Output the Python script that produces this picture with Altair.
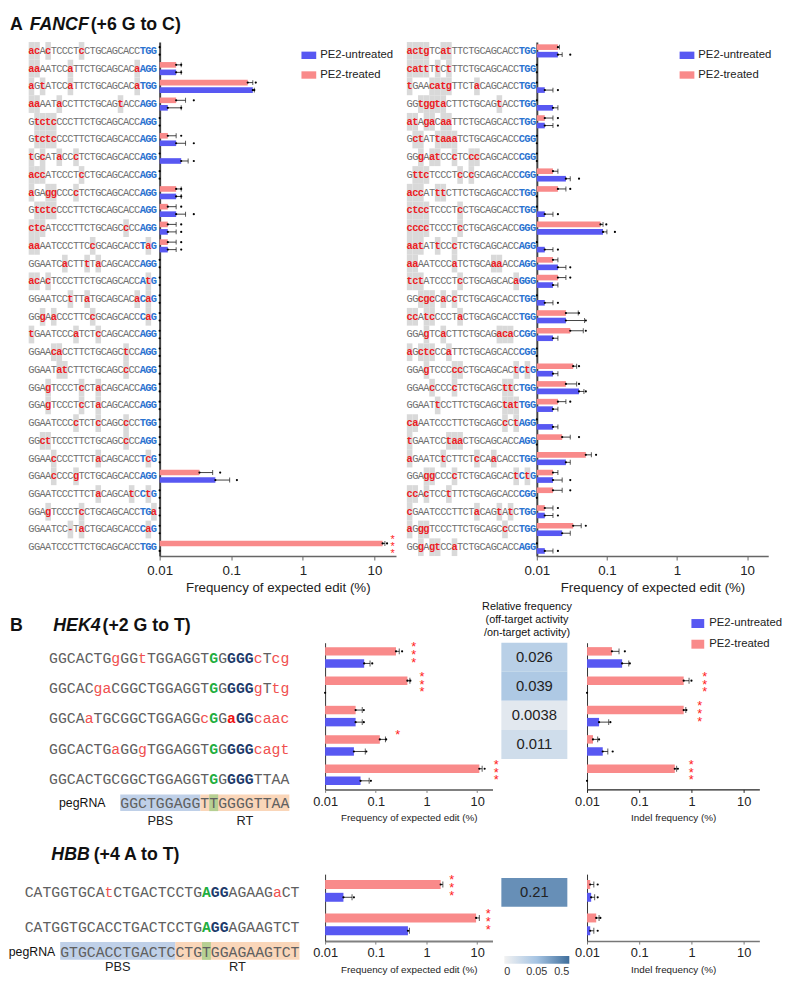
import altair as alt
import pandas as pd

MONO = "Liberation Mono"
SANS = "Liberation Sans"
BLUE = "#5858f2"
PINK = "#f98a8a"
GROUPS = ["PE2-untreated", "PE2-treated"]
OFFSET_ORDER = ["PE2-treated", "PE2-untreated"]
N = None

# ---------------- Panel A : FANCF (+6 G to C) ----------------
A_LEFT_SEQS = [
    "acAcTCCCTcCTGCAGCACCTGG", "aaAATCCaTTCTGCAGCACaAGG", "aGtATCCaTTCTGCAGCACaTGG",
    "aaAATaCCTTCTGCAGtACCAGG", "GtctcCCCTTCTGCAGCACCAGG", "GtctcCCCTTCTGCAGCACCAGG",
    "tGcATaCCcTCTGCAGCACCAGG", "accATCCCTcCTGCAGCACCAGG", "aGAggCCCcTCTGCAGCACCAGG",
    "GtctcCCCTTCTGCAGCACCAGG", "ctcATCCCTTCTGCAGCcCCAGG", "aaAATCCCTTCcGCAGCACCTaG",
    "GGAATCaCTTtTaCAGCACCAGG", "acAcTCCCTTCTGCAGCACCAtG", "GGAATCCtTTaTGCAGCACaCaG",
    "GGgAaCCCTTCcGCAGCACCCaG", "tGAATCCCaTCTcCAGCACCAGG", "GGAAcaCCTTCTGCAGCtCCAGG",
    "GGAATatCTTCTGCAGCcCCAGG", "GGAgTCCCTcCTaCAGCACCAGG", "GGAgTCCCTcCTaCAGCACCAGG",
    "GGAATCCCcTCTcCAGCcCCTGG", "GGctTCCCTTCTGCAGCcCCAGG", "GGAAcCCCTTCTaCAGCACCTcG",
    "GGAAcCCCgTCTGCAGCACCAGG", "GGAATCCCTTCTaCAGCAtCCtG", "GGAgTCCCTcCTGCAGCACCTGa",
    "GGAATCC-TaCTGCAGCACCCaG", "GGAATCCCTTCTGCAGCACCTGG",
]
A_LEFT_TREATED = [0.01, 0.017, 0.17, 0.017, 0.01, 0.013, 0.01, 0.01, 0.017, 0.013, 0.013, 0.013,
                  0.01, 0.01, 0.01, 0.01, 0.01, 0.01, 0.01, 0.01, 0.01, 0.01, 0.01, 0.01,
                  0.036, 0.01, 0.01, 0.01, 13.0]
A_LEFT_UNTREATED = [0.01, 0.017, 0.2, 0.013, 0.01, 0.017, 0.02, 0.01, 0.017, 0.017, 0.013, 0.013,
                    0.01, 0.01, 0.01, 0.01, 0.01, 0.01, 0.01, 0.01, 0.01, 0.01, 0.01, 0.01,
                    0.06, 0.01, 0.01, 0.01, 0.01]
A_LEFT_TREATED_ERR = [N, 0.02, 0.2, 0.023, N, 0.017, N, N, 0.02, 0.017, 0.017, 0.017,
                      N, N, N, N, N, N, N, N, N, N, N, N, 0.055, N, N, N, 14.0]
A_LEFT_TREATED_DOT = [N, 0.02, 0.22, 0.03, N, 0.02, N, N, 0.02, 0.02, 0.02, 0.02,
                      N, N, N, N, N, N, N, N, N, N, N, N, 0.07, N, N, N, 15.0]
A_LEFT_UNTREATED_ERR = [N, 0.02, 0.21, 0.02, N, 0.023, 0.025, N, 0.02, 0.023, 0.017, 0.017,
                        N, N, N, N, N, N, N, N, N, N, N, N, 0.095, N, N, N, N]
A_LEFT_UNTREATED_DOT = [N, 0.02, 0.21, 0.02, N, 0.03, 0.03, N, 0.02, 0.03, 0.02, 0.02,
                        N, N, N, N, N, N, N, N, N, N, N, N, 0.12, N, N, N, N]
A_LEFT_STARS = ["", "", "", "", "", "", "", "", "", "", "", "", "", "", "", "", "", "", "", "",
                "", "", "", "", "", "", "", "", "***"]

A_RIGHT_SEQS = [
    "actgTCatTTCTGCAGCACCTGG", "cattTtCtTTCTGCAGCACCTGG", "tGAAcatgTTCTaCAGCACCTGG",
    "GGtggtaCTTCTGCAGtACCTGG", "atAgaCaaTTCTGCAGCACCTGG", "GctATtaaaTCTGCAGCACCCGG",
    "GGgAatCCcTCccCAGCACCCGG", "GttcTCCCTcCcGCAGCACCCGG", "accATttCTTCTGCAGCACCTGG",
    "ctccTCCCTcCTGCAGCACCTGG", "ccccTCCCTcCTGCAGCACCGGG", "aatATtCCcTCTGCAGCACCAGG",
    "aaAATCCCaTCTGCAaaACCAGG", "tctATCCCTcCTGCAGCACaGGG", "GGcgcCaCcTCTGCAGCACCTGG",
    "ccAtcCCCTaCTGCAGCACCTGG", "GGAgTCaCTTCTGCAGacaCCGG", "aGctcCCaTTCTGCAGCACCCGG",
    "GGAgTCCCccCTGCAGCACtCtG", "GGAAcCCCcTCTGCAGCttCTGG", "GGAATtCCTTCTGCAGCtatTGG",
    "caAATCCCTTCTGCAGCcCtAGG", "tGAATCCtaaCTGCAGCACCAGG", "aGAATCtCTTCTcCAaCACCTGG",
    "GGAggCCCcTCTGCAGCACtCtG", "ccAcTCCtTTCTGCAGCACCCGG", "cGAATCCCTTCTaCAGtAtCTGG",
    "aGggTCCCTTCTGCAGCcCCTGG", "GGgAgtCCaTCTGCAGCACCAGG",
]
A_RIGHT_TREATED = [0.02, 0.01, 0.01, 0.01, 0.013, 0.01, 0.01, 0.017, 0.02, 0.01, 0.081, 0.01,
                   0.017, 0.02, 0.01, 0.026, 0.03, 0.01, 0.033, 0.026, 0.02, 0.01, 0.023, 0.05,
                   0.017, 0.017, 0.013, 0.033, 0.01]
A_RIGHT_UNTREATED = [0.02, 0.01, 0.013, 0.017, 0.013, 0.01, 0.01, 0.026, 0.01, 0.013, 0.088, 0.013,
                     0.02, 0.017, 0.013, 0.026, 0.017, 0.01, 0.017, 0.04, 0.017, 0.017, 0.01, 0.026,
                     0.017, 0.01, 0.013, 0.023, 0.013]
A_RIGHT_TREATED_ERR = [0.021, N, N, N, 0.017, N, N, 0.02, 0.026, N, 0.088, N, 0.02, 0.026, N, 0.039,
                       0.046, N, 0.037, 0.037, 0.026, N, 0.03, 0.06, 0.02, 0.023, 0.017, 0.043, N]
A_RIGHT_TREATED_DOT = [N, N, N, N, 0.02, N, N, N, 0.03, N, 0.098, N, N, 0.03, N, 0.04,
                       0.05, N, 0.04, 0.04, 0.03, N, 0.04, 0.07, N, 0.03, 0.02, 0.05, N]
A_RIGHT_UNTREATED_ERR = [0.023, N, 0.017, 0.02, 0.017, N, N, 0.03, N, 0.017, 0.1, 0.017, 0.026, 0.02,
                         0.017, 0.048, 0.02, N, 0.02, 0.047, 0.02, 0.02, N, 0.03, 0.023, N, 0.017,
                         0.03, 0.017]
A_RIGHT_UNTREATED_DOT = [0.03, N, 0.02, N, 0.02, N, N, 0.04, N, 0.02, 0.13, 0.02, 0.03, N,
                         0.02, 0.05, N, N, N, 0.05, N, N, N, N, 0.03, N, 0.02, N, 0.02]
A_RIGHT_STARS = ["", "", "", "", "", "", "", "", "", "", "", "", "", "", "", "", "", "", "", "",
                 "", "", "", "", "", "", "", "", ""]

# ---------------- Panel B : HEK4 (+2 G to T) ----------------
HEK4_SEQS = [
    "GGCACTGgGGtTGGAGGTGGGGGcTcg",
    "GGCACgaCGGCTGGAGGTGGGGGgTtg",
    "GGCAaTGCGGCTGGAGGcGGaGGcaac",
    "GGCACTGaGGgTGGAGGTGGGGGcagt",
    "GGCACTGCGGCTGGAGGTGGGGGTTAA",
]
HEK4_PEG = "GGCTGGAGGTTGGGGTTAA"
HEK4_EDIT_T = [0.25, 0.42, 0.04, 0.12, 11.0]
HEK4_EDIT_U = [0.059, 0.01, 0.04, 0.037, 0.05]
HEK4_EDIT_T_ERR = [0.29, 0.47, 0.054, 0.155, 12.5]
HEK4_EDIT_T_DOT = [0.33, 0.48, 0.058, 0.16, 14.0]
HEK4_EDIT_U_ERR = [0.077, N, 0.054, 0.062, 0.074]
HEK4_EDIT_U_DOT = [0.085, N, 0.058, 0.065, 0.08]
HEK4_EDIT_STARS = ["***", "***", "", "*", "***"]
HEK4_REL = [0.026, 0.039, 0.0038, 0.011]
HEK4_INDEL_T = [0.03, 0.71, 0.71, 0.013, 0.48]
HEK4_INDEL_U = [0.047, 0.01, 0.017, 0.02, 0.01]
HEK4_INDEL_T_ERR = [0.041, 0.9, 0.78, 0.016, 0.52]
HEK4_INDEL_T_DOT = [0.053, 1.0, 0.8, 0.017, 0.55]
HEK4_INDEL_U_ERR = [0.063, N, 0.026, 0.025, N]
HEK4_INDEL_U_DOT = [0.066, N, 0.028, 0.031, N]
HEK4_INDEL_STARS = ["", "***", "***", "", "***"]

# ---------------- HBB (+4 A to T) ----------------
HBB_SEQS = [
    "CATGGTGCAtCTGACTCCTGAGGAGAAGaCT",
    "CATGGTGCACCTGACTCCTGAGGAGAAGTCT",
]
HBB_PEG = "GTGCACCTGACTCCTGTGGAGAAGTCT"
HBB_EDIT_T = [1.9, 9.5]
HBB_EDIT_U = [0.023, 0.43]
HBB_EDIT_T_ERR = [2.1, 11.0]
HBB_EDIT_T_DOT = [N, N]
HBB_EDIT_U_ERR = [0.034, 0.46]
HBB_EDIT_U_DOT = [0.037, N]
HBB_EDIT_STARS = ["***", "***"]
HBB_REL = [0.21]
HBB_INDEL_T = [0.0115, 0.015]
HBB_INDEL_U = [0.012, 0.0115]
HBB_INDEL_T_ERR = [0.0135, 0.017]
HBB_INDEL_T_DOT = [0.016, 0.018]
HBB_INDEL_U_ERR = [0.014, 0.0135]
HBB_INDEL_U_DOT = [0.016, 0.016]
HBB_INDEL_STARS = ["", ""]

REL_TICKS = [0, 0.05, 0.5]
X_TICKS = [0.01, 0.1, 1, 10]


# ---------------- helpers ----------------
def char_frame(seqs, pam_cols, green_col=None):
    recs = []
    for r, s in enumerate(seqs, start=1):
        for i, ch in enumerate(s):
            low = ch.islower() or ch == "-"
            if i in pam_cols:
                kind = "pam_mm" if low else "pam"
            elif green_col is not None and i == green_col and not low:
                kind = "green"
            else:
                kind = "mm" if low else "match"
            recs.append({"row": r, "col": i, "x0": i - 0.5, "x1": i + 0.5,
                         "ch": ch, "low": low, "kind": kind})
    return pd.DataFrame(recs)


def bar_frame(t, u, t_err, u_err, t_dot, u_dot, stars, star_factor):
    recs = []
    for i in range(len(t)):
        for grp, v, e, d, s in (("PE2-treated", t[i], t_err[i], t_dot[i], stars[i]),
                                ("PE2-untreated", u[i], u_err[i], u_dot[i], "")):
            top = max(x for x in (v, e, d) if x is not None)
            recs.append({"row": i + 1, "grp": grp, "val": v, "err": e, "dot": d,
                         "star": "\n".join(s), "sx": top * star_factor})
    return pd.DataFrame(recs)


def text_layers(parts):
    layers = []
    for txt, x, y, size, weight, style, align, baseline in parts:
        layers.append(alt.Chart(pd.DataFrame({"t": [txt]})).mark_text(
            align=align, baseline=baseline, font=SANS, fontSize=size, fontWeight=weight,
            fontStyle=style, color="#111").encode(
            x=alt.value(x), y=alt.value(y), text="t:N"))
    return layers


def x_axis(title, label_size, title_size, tick_size, label_pad, title_pad, dcolor, dwidth, offset):
    return alt.Axis(values=X_TICKS, format="~g", title=title, labelFontSize=label_size,
                    titleFontSize=title_size, titleFontWeight="normal", tickSize=tick_size,
                    labelPadding=label_pad, titlePadding=title_pad, domainColor=dcolor,
                    domainWidth=dwidth, tickColor=dcolor, labelColor="#222", titleColor="#222",
                    labelFlush=False, grid=False, labelFont=SANS, titleFont=SANS, offset=offset)


def y_axis(dcolor, dwidth):
    return alt.Axis(labels=False, ticks=False, title=None, domainColor=dcolor,
                    domainWidth=dwidth, grid=False)


def legend_bars(lx, ly, label_size, path, size, row_pad, label_off):
    return alt.Legend(orient="none", legendX=lx, legendY=ly, title=None, symbolType=path,
                      symbolSize=size, symbolStrokeWidth=0, symbolOpacity=1,
                      labelFontSize=label_size, labelFont=SANS, labelColor="#222",
                      rowPadding=row_pad, labelOffset=label_off, padding=0)


def bar_chart(df, n, width, height, x_range, y_range, pad_in, off_pad, xaxis, yaxis, legend,
              star_size, star_lh, star_dy, dot_size, cap_size, extra=()):
    xs = alt.Scale(type="log", domain=[0.01, 20], range=x_range, nice=False)
    ys = alt.Scale(domain=list(range(1, n + 1)), range=y_range,
                   paddingInner=pad_in, paddingOuter=pad_in / 2)
    offs = alt.Scale(domain=OFFSET_ORDER, paddingInner=off_pad, paddingOuter=0)
    base = alt.Chart(df).encode(
        y=alt.Y("row:O", scale=ys, axis=yaxis),
        yOffset=alt.YOffset("grp:N", scale=offs),
    )
    bars = base.mark_bar().encode(
        x=alt.X("val:Q", scale=xs, axis=xaxis),
        x2=alt.datum(0.01),
        color=alt.Color("grp:N", scale=alt.Scale(domain=GROUPS, range=[BLUE, PINK]),
                        legend=legend),
    )
    has_err = base.transform_filter("isValid(datum.err)")
    err = has_err.mark_rule(color="#111", strokeWidth=0.8).encode(
        x=alt.X("val:Q", scale=xs, axis=xaxis), x2="err:Q")
    cap = has_err.mark_tick(color="#111", size=cap_size, thickness=1).encode(
        x=alt.X("err:Q", scale=xs, axis=xaxis))
    pts = base.mark_circle(color="#000", size=dot_size, opacity=1).encode(
        x=alt.X("val:Q", scale=xs, axis=xaxis))
    pts2 = base.transform_filter("isValid(datum.dot)").mark_circle(
        color="#000", size=dot_size, opacity=1).encode(x=alt.X("dot:Q", scale=xs, axis=xaxis))
    stars = base.transform_filter("datum.star != ''").mark_text(
        color="#ff2020", fontSize=star_size, lineBreak="\n", lineHeight=star_lh,
        baseline="middle", align="center", dy=star_dy, font=SANS).encode(
        x=alt.X("sx:Q", scale=xs, axis=xaxis), text="star:N")
    return alt.layer(bars, err, cap, pts, pts2, stars, *extra).properties(width=width, height=height)


A_STYLES = {"match": ("#707070", "normal"), "mm": ("#ec1c24", "bold"),
            "pam_mm": ("#ec1c24", "bold"), "pam": ("#2a72d0", "bold")}


def seqA_chart(seqs, width, height, x_range, y_range, extra=()):
    df = char_frame(seqs, (20, 21, 22))
    n = len(seqs)
    L = len(seqs[0])
    xs = alt.Scale(domain=[-0.5, L - 0.5], range=x_range, nice=False, zero=False)
    ys = alt.Scale(domain=list(range(1, n + 1)), range=y_range, paddingInner=0, paddingOuter=0)
    base = alt.Chart(df).encode(y=alt.Y("row:O", scale=ys, axis=None))
    layers = [base.transform_filter("datum.low").mark_rect(color="#d9d9d9").encode(
        x=alt.X("x0:Q", scale=xs, axis=None), x2="x1:Q")]
    for kind, (col, wt) in A_STYLES.items():
        layers.append(base.transform_filter(f"datum.kind == '{kind}'").mark_text(
            font=MONO, fontSize=10.5, baseline="middle", color=col, fontWeight=wt).encode(
            x=alt.X("col:Q", scale=xs, axis=None), text="ch:N"))
    return alt.layer(*layers, *extra).properties(width=width, height=height)


B_STYLES = {"match": ("#606060", "normal"), "mm": ("#f0504f", "normal"),
            "pam_mm": ("#ee1111", "bold"), "green": ("#1fae3f", "bold"),
            "pam": ("#1d3b6b", "bold")}


def seq_bc_chart(seqs, pam_cols, green_col, peg, peg_start, pbs_len, width, height,
                 rows_top, step, x_range, peg_c, box_top, box_bot, lab_c, peg_label_x, extra=()):
    # vertical layout values are pixels from the top of this panel
    L = len(seqs[0])
    df = char_frame(seqs, pam_cols, green_col)
    df["y"] = rows_top + (df["row"] - 0.5) * step
    xs = alt.Scale(domain=[-0.5, L - 0.5], range=x_range, nice=False, zero=False)
    ys = alt.Scale(domain=[0, height], range=[0, height], nice=False, zero=False)
    X = lambda f: alt.X(f, scale=xs, axis=None)
    Y = lambda f: alt.Y(f, scale=ys, axis=None)

    peg_end = peg_start + len(peg) - 1
    segs = pd.DataFrame([
        {"seg": "PBS", "x0": peg_start - 0.5, "x1": peg_start + pbs_len - 0.5},
        {"seg": "RT", "x0": peg_start + pbs_len - 0.5, "x1": peg_end + 0.5},
        {"seg": "edit", "x0": green_col - 0.5, "x1": green_col + 0.5},
    ])
    segs["y0"] = box_top
    segs["y1"] = box_bot
    boxes = alt.Chart(segs).mark_rect(opacity=0.85).encode(
        x=X("x0:Q"), x2="x1:Q", y=Y("y0:Q"), y2="y1:Q",
        color=alt.Color("seg:N", scale=alt.Scale(domain=["PBS", "RT", "edit"],
                        range=["#b4c8e4", "#f9cfad", "#a9cf8c"]), legend=None))

    peg_df = pd.DataFrame({"col": [peg_start + j for j in range(len(peg))], "ch": list(peg)})
    peg_df["y"] = peg_c
    peg_txt = alt.Chart(peg_df).mark_text(font=MONO, fontSize=15, color="#606060",
                                          baseline="middle").encode(
        x=X("col:Q"), y=Y("y:Q"), text="ch:N")

    lab_df = pd.DataFrame({"lab": ["PBS", "RT"],
                           "col": [peg_start + (pbs_len - 1) / 2, (peg_start + pbs_len + peg_end) / 2]})
    lab_df["y"] = lab_c
    labs = alt.Chart(lab_df).mark_text(font=SANS, fontSize=13, color="#222",
                                       baseline="middle").encode(
        x=X("col:Q"), y=Y("y:Q"), text="lab:N")

    peg_lab = text_layers([("pegRNA", peg_label_x, peg_c, 12.5, "normal", "normal",
                            "right", "middle")])

    layers = [boxes]
    base = alt.Chart(df)
    for kind, (col, wt) in B_STYLES.items():
        layers.append(base.transform_filter(f"datum.kind == '{kind}'").mark_text(
            font=MONO, fontSize=15, baseline="middle", color=col, fontWeight=wt).encode(
            x=X("col:Q"), y=Y("y:Q"), text="ch:N"))
    layers += [peg_txt, labs, *peg_lab, *extra]
    return alt.layer(*layers).properties(width=width, height=height)


def heat_chart(values, width, height, x_range, y_range, legend, extra=()):
    df = pd.DataFrame({"row": list(range(1, len(values) + 1)), "v": values, "c": "c"})
    xs = alt.Scale(domain=["c"], range=x_range, paddingInner=0, paddingOuter=0)
    ys = alt.Scale(domain=list(range(1, len(values) + 1)), range=y_range,
                   paddingInner=0, paddingOuter=0)
    cs = alt.Scale(type="symlog", constant=0.00625, domain=REL_TICKS, interpolate="rgb",
                   range=["#f2f2f2", "#a6c4e3", "#3f6e9c"])
    base = alt.Chart(df).encode(x=alt.X("c:N", scale=xs, axis=None),
                                y=alt.Y("row:O", scale=ys, axis=None))
    rect = base.mark_rect().encode(color=alt.Color("v:Q", scale=cs, legend=legend))
    txt = base.mark_text(font=SANS, fontSize=15, color="#222").encode(
        text=alt.Text("v:Q", format="~g"))
    return alt.layer(rect, txt, *extra).properties(width=width, height=height)


RES = dict(x="independent", y="independent", color="independent", yOffset="independent")

# ---------------- Row A (page y 8..600) ----------------
HA = 592
A_Y = [27, 549]
axA = x_axis("Frequency of expected edit (%)", 13.5, 13.5, 4, 4, 3, "#666", 1.5, A_Y[1] - HA)
yA = y_axis("#444", 2)
legA = legend_bars(144, 33, 11.5, "M-1,-0.5H1V0.5H-1Z", 225, 7, 4)
legA2 = legend_bars(145, 33, 11.5, "M-1,-0.5H1V0.5H-1Z", 225, 7, 4)

dfAL = bar_frame(A_LEFT_TREATED, A_LEFT_UNTREATED, A_LEFT_TREATED_ERR, A_LEFT_UNTREATED_ERR,
                 A_LEFT_TREATED_DOT, A_LEFT_UNTREATED_DOT, A_LEFT_STARS, 1.2)
dfAR = bar_frame(A_RIGHT_TREATED, A_RIGHT_UNTREATED, A_RIGHT_TREATED_ERR, A_RIGHT_UNTREATED_ERR,
                 A_RIGHT_TREATED_DOT, A_RIGHT_UNTREATED_DOT, A_RIGHT_STARS, 1.2)

titleA = text_layers([
    ("A", 0, 15, 18, "bold", "normal", "left", "alphabetic"),
    ("FANCF", 20, 15, 18, "bold", "italic", "left", "alphabetic"),
    ("(+6 G to C)", 82, 15, 18, "bold", "normal", "left", "alphabetic"),
])
seqAL = seqA_chart(A_LEFT_SEQS, 152, HA, [19, 149], A_Y, titleA)
barAL = bar_chart(dfAL, 29, 240, HA, [0, 240], A_Y, 0.26, 0.25, axA, yA, legA, 11, 7, -3, 5, 5)
seqAR = seqA_chart(A_RIGHT_SEQS, 143, HA, [11, 142], A_Y)
barAR = bar_chart(dfAR, 29, 235, HA, [0, 235], A_Y, 0.26, 0.25, axA, yA, legA2, 11, 7, -3, 5, 5)
rowA = alt.hconcat(seqAL, barAL, seqAR, barAR, spacing=0, bounds="flush").resolve_scale(**RES)

# ---------------- Row B : HEK4 (page y 600..835) ----------------
HB = 235
B_Y = [45, 194]
axB1 = x_axis("Frequency of expected edit (%)", 13, 10, 3, 3, 5, "#808080", 2, B_Y[1] - HB)
axB2 = x_axis("Indel frequency (%)", 13, 10, 3, 3, 5, "#222", 1.2, B_Y[1] - HB)
yB = y_axis("#333", 1)
legB = legend_bars(106, 19, 11.5, "M-1,-0.7H1V0.7H-1Z", 169, 9, 5)

titleB = text_layers([
    ("B", 0, 33, 18, "bold", "normal", "left", "alphabetic"),
    ("HEK4", 44, 33, 18, "bold", "italic", "left", "alphabetic"),
    ("(+2 G to T)", 94, 33, 18, "bold", "normal", "left", "alphabetic"),
])
headB = text_layers([
    ("Relative frequency", 26, 9, 11, "normal", "normal", "center", "middle"),
    ("(off-target activity", 26, 22, 11, "normal", "normal", "center", "middle"),
    ("/on-target activity)", 26, 35, 11, "normal", "normal", "center", "middle"),
])
seqB = seq_bc_chart(HEK4_SEQS, (20, 21, 22), 18, HEK4_PEG, 8, 9, 320, HB, 45, 30.75,
                    [39.7, 283.7], 208, 199, 216, 226, 97, titleB)
dfB1 = bar_frame(HEK4_EDIT_T, HEK4_EDIT_U, HEK4_EDIT_T_ERR, HEK4_EDIT_U_ERR,
                 HEK4_EDIT_T_DOT, HEK4_EDIT_U_DOT, HEK4_EDIT_STARS, 1.7)
barB1 = bar_chart(dfB1, 5, 179, HB, [0, 170], B_Y, 0.3, 0.3, axB1, yB, None, 13, 8, -4, 5, 6)
heatB = heat_chart(HEK4_REL, 87, HB, [0, 67], [45, 163], None, headB)
dfB2 = bar_frame(HEK4_INDEL_T, HEK4_INDEL_U, HEK4_INDEL_T_ERR, HEK4_INDEL_U_ERR,
                 HEK4_INDEL_T_DOT, HEK4_INDEL_U_DOT, HEK4_INDEL_STARS, 1.8)
barB2 = bar_chart(dfB2, 5, 184, HB, [0, 175], B_Y, 0.3, 0.3, axB2, yB, legB, 13, 8, -4, 5, 6)
rowB = alt.hconcat(seqB, barB1, heatB, barB2, spacing=0, bounds="flush").resolve_scale(**RES)

# ---------------- Row C : HBB (page y 835..983) ----------------
HC = 148
C_Y = [45, 113]
axC1 = x_axis("Frequency of expected edit (%)", 13, 10, 3, 3, 5, "#808080", 2, C_Y[1] - HC)
axC2 = x_axis("Indel frequency (%)", 13, 10, 3, 3, 5, "#777", 1.5, C_Y[1] - HC)

titleC = text_layers([
    ("HBB", 42, 31, 18, "bold", "italic", "left", "alphabetic"),
    ("(+4 A to T)", 85, 31, 18, "bold", "normal", "left", "alphabetic"),
])
gradLeg = alt.Legend(orient="none", legendX=3, legendY=128, direction="horizontal",
                     gradientLength=66, gradientThickness=8, title=None, values=REL_TICKS,
                     format="~g", labelFontSize=11, labelOverlap=False, gradientStrokeWidth=0,
                     labelColor="#333", labelFont=SANS, padding=0)

seqC = seq_bc_chart(HBB_SEQS, (21, 22), 20, HBB_PEG, 4, 13, 320, HC, 45, 36,
                    [15, 294], 124, 114, 132, 139, 46, titleC)
dfC1 = bar_frame(HBB_EDIT_T, HBB_EDIT_U, HBB_EDIT_T_ERR, HBB_EDIT_U_ERR,
                 HBB_EDIT_T_DOT, HBB_EDIT_U_DOT, HBB_EDIT_STARS, 1.5)
barC1 = bar_chart(dfC1, 2, 179, HC, [0, 170], C_Y, 0.35, 0.3, axC1, yB, None, 13, 8, -4, 5, 6)
heatC = heat_chart(HBB_REL, 87, HC, [0, 67], [49, 78], gradLeg)
dfC2 = bar_frame(HBB_INDEL_T, HBB_INDEL_U, HBB_INDEL_T_ERR, HBB_INDEL_U_ERR,
                 HBB_INDEL_T_DOT, HBB_INDEL_U_DOT, HBB_INDEL_STARS, 1.5)
barC2 = bar_chart(dfC2, 2, 184, HC, [0, 175], C_Y, 0.35, 0.3, axC2, yB, None, 13, 8, -4, 5, 6)
rowC = alt.hconcat(seqC, barC1, heatC, barC2, spacing=0, bounds="flush").resolve_scale(**RES)

chart = alt.vconcat(rowA, rowB, rowC, spacing=0)
chart = chart.resolve_scale(**RES).properties(padding=0).configure(
    font=SANS, view=alt.ViewConfig(stroke=None))

chart.save("out.html", embed_options={"renderer": "svg", "actions": False})
